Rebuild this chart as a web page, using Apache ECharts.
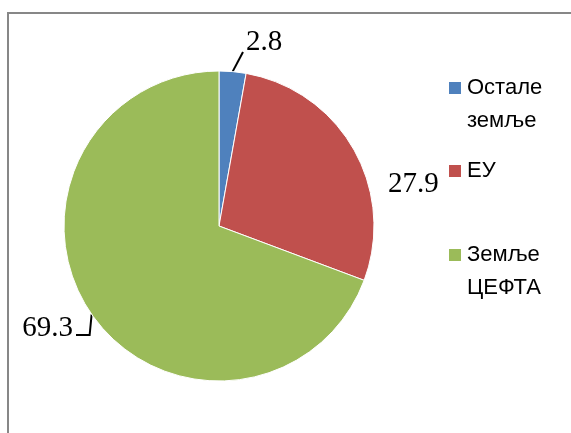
<!DOCTYPE html>
<html>
<head>
<meta charset="utf-8">
<script src="https://cdn.jsdelivr.net/npm/echarts@6/dist/echarts.min.js"></script>
<style>
  html, body { margin: 0; padding: 0; background: #fff; }
  #main { width: 571px; height: 433px; }
</style>
</head>
<body>
<div id="main"></div>
<script>
// podaci
var categories = ['Остале земље', 'ЕУ', 'Земље ЦЕФТА'];
var values = [2.8, 27.9, 69.3];
var colors = ['#4F81BD', '#C0504D', '#9BBB59'];

var legendTops = [38.5, 154.5, 205.5];

var chart = echarts.init(document.getElementById('main'));

var pieData = categories.map(function (name, i) {
    return {
        name: name,
        value: values[i],
        itemStyle: { color: colors[i] },
        labelLine: { show: i !== 1 }
    };
});

// svaka legenda posebno, da bi prvi red teksta bio u ravni sa kvadratom
var legends = categories.map(function (name, i) {
    return {
        data: [name],
        left: 447,
        top: legendTops[i],
        padding: 0,
        icon: 'rect',
        itemWidth: 14,
        itemHeight: 14,
        selectedMode: false,
        formatter: function (n) {
            // prazan red na vrhu => kvadrat stoji uz prvi red teksta
            return n.indexOf(' ') > -1 ? ' \n' + n.replace(' ', '\n') : n;
        },
        textStyle: {
            fontFamily: 'Liberation Sans',
            fontSize: 22,
            lineHeight: 33,
            color: '#000'
        }
    };
});

// pozicije oznaka vrednosti kao u Excel-u
var labelPos = [
    { x: 246, y: 42, align: 'left' },
    { x: 388, y: 184, align: 'left' },
    { x: 73, y: 328, align: 'right' }
];

chart.setOption({
    animation: false,
    backgroundColor: '#fff',
    graphic: [{
        type: 'rect',
        shape: { x: 8, y: 13, width: 700, height: 600 },
        style: { fill: 'none', stroke: '#878787', lineWidth: 2 },
        silent: true
    }],
    legend: legends,
    series: [{
        type: 'pie',
        center: [219, 226],
        radius: 155,
        startAngle: 90,
        clockwise: true,
        data: pieData,
        itemStyle: { borderColor: '#fff', borderWidth: 1 },
        label: {
            show: true,
            position: 'outside',
            formatter: '{c}',
            fontFamily: 'Liberation Serif',
            fontSize: 29,
            color: '#000'
        },
        labelLine: {
            show: true,
            length: 20,
            length2: 8,
            lineStyle: { color: '#000', width: 2 }
        },
        labelLayout: function (params) {
            var p = labelPos[params.dataIndex];
            var out = { x: p.x, y: p.y, align: p.align, verticalAlign: 'middle' };
            var pts = params.labelLinePoints;
            if (pts && pts.length) {
                var s = pts[0];
                if (params.dataIndex === 0) {
                    out.labelLinePoints = [s, [p.x - 3, p.y + 10]];
                } else if (params.dataIndex === 2) {
                    var ex = s[0] - 2;
                    out.labelLinePoints = [s, [ex, p.y + 7], [p.x + 3, p.y + 7]];
                }
            }
            return out;
        }
    }]
});
</script>
</body>
</html>
